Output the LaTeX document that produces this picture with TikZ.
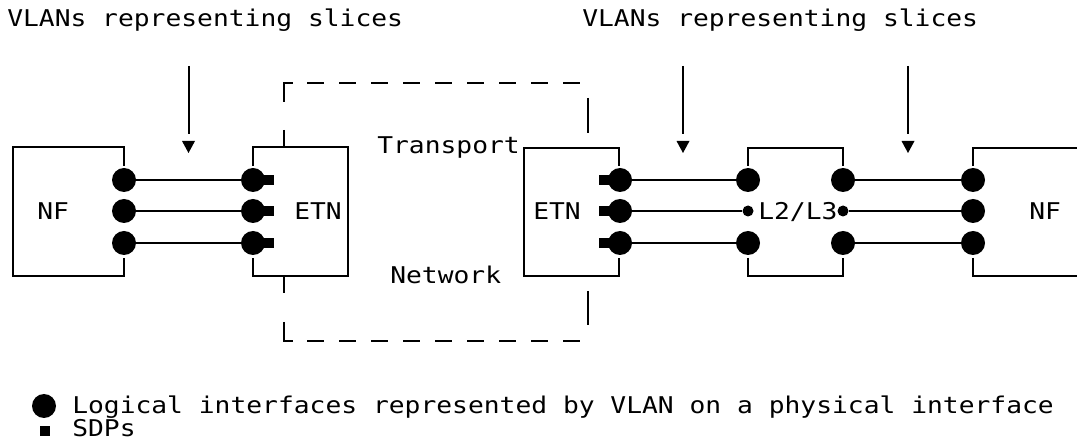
\documentclass[tikz,border=0pt]{standalone}
\usepackage{fontspec}
\newfontfamily\dmono{DejaVu Sans Mono}[FakeStretch=1.14]
\begin{document}
\begin{tikzpicture}[x=0.75pt,y=-0.75pt,
  wire/.style={line width=1.5pt},
  dashwire/.style={line width=1.5pt,dash pattern=on 12.75pt off 11.25pt},
  lbl/.style={font=\dmono\fontsize{17.3pt}{20pt}\selectfont,inner sep=0pt,anchor=base west},
  iface/.style={circle,fill=black,inner sep=0pt,minimum size=18pt},
  smalldot/.style={circle,fill=black,inner sep=0pt,minimum size=8.25pt},
  sdp/.style={rectangle,fill=black,inner sep=0pt,minimum width=12pt,minimum height=7.5pt},
  tip/.style={fill=black}]
\useasboundingbox (0,0) rectangle (1077,448);
\clip (0,0) rectangle (1077,448);

% top labels
\node[lbl] (t1) at (7,27) {VLANs representing slices};
\node[lbl] (t2) at (582,27) {VLANs representing slices};

% arrows
\foreach \n/\x in {a1/188.5,a2/683,a3/908}{
  \coordinate (\n s) at (\x,66);
  \coordinate (\n e) at (\x,134);
  \draw[wire] (\n s) -- (\n e);
  \fill[tip] (\x-6.5,141) -- (\x+6.5,141) -- (\x,153) -- cycle;
}

% boxes
\draw[wire] (124,166) -- (124,147) -- (13,147) -- (13,276) -- (124,276) -- (124,258);
\draw[wire] (253,166) -- (253,147) -- (348,147) -- (348,276) -- (253,276) -- (253,258);
\draw[wire] (619,166) -- (619,148) -- (524,148) -- (524,276) -- (619,276) -- (619,258);
\draw[wire] (748,166) -- (748,148) -- (843,148) -- (843,166);
\draw[wire] (748,258) -- (748,276) -- (843,276) -- (843,258);
\draw[wire] (1085,148) -- (973,148) -- (973,166);
\draw[wire] (973,258) -- (973,276) -- (1085,276);

% box labels
\node[lbl] (nf1) at (37,220) {NF};
\node[lbl] (etn1) at (294,220) {ETN};
\node[lbl] (etn2) at (533,220) {ETN};
\node[lbl] (l23) at (758,220) {L2/L3};
\node[lbl] (nf2) at (1029,220) {NF};
\node[lbl] (tr) at (377,154) {Transport};
\node[lbl] (nw) at (390,284) {Network};

% transport network dashed frame
\coordinate (d1) at (284,102);
\coordinate (d2) at (284,83);
\coordinate (d3) at (293,83);
\coordinate (d4) at (307,83);
\coordinate (d5) at (580,83);
\draw[wire] (d1) -- (d2) -- (d3);
\draw[dashwire] (d4) -- (d5);
\coordinate (d6) at (284,130);
\coordinate (d7) at (284,147);
\draw[wire] (d6) -- (d7);
\coordinate (d8) at (588,98);
\coordinate (d9) at (588,133);
\draw[wire] (d8) -- (d9);
\coordinate (b1) at (284,276);
\coordinate (b2) at (284,293);
\draw[wire] (b1) -- (b2);
\coordinate (b3) at (284,322);
\coordinate (b4) at (284,341);
\coordinate (b5) at (293,341);
\draw[wire] (b3) -- (b4) -- (b5);
\coordinate (b6) at (307,341);
\coordinate (b7) at (580,341);
\draw[dashwire] (b6) -- (b7);
\coordinate (b8) at (588,291);
\coordinate (b9) at (588,325);
\draw[wire] (b8) -- (b9);

% SDPs
\foreach \i/\y in {1/180,2/211,3/243}{
  \node[sdp] (sl\i) at (266,\y) {};
  \node[sdp] (sr\i) at (607,\y) {};
}

% interfaces
\foreach \i/\y in {1/180,2/211,3/243}{
  \node[iface] (nfa\i) at (124,\y) {};
  \node[iface] (etna\i) at (253,\y) {};
  \node[iface] (etnb\i) at (620,\y) {};
  \node[iface] (nfb\i) at (973,\y) {};
}
\node[iface] (la1) at (748,180) {};
\node[iface] (la3) at (748,243) {};
\node[iface] (lb1) at (843,180) {};
\node[iface] (lb3) at (843,243) {};
\node[smalldot] (la2) at (748,211) {};
\node[smalldot] (lb2) at (843,211) {};

% connectors
\foreach \i in {1,2,3}{
  \draw[wire] (nfa\i) -- (etna\i);
  \draw[wire] (etnb\i) -- (la\i);
  \draw[wire] (lb\i) -- (nfb\i);
}

% legend
\node[iface] (lgc) at (44,406) {};
\node[lbl] (lg1) at (72,413) {Logical interfaces represented by VLAN on a physical interface};
\node[sdp,minimum width=8pt,minimum height=8pt] (lgs) at (45,431) {};
\node[lbl] (lg2) at (72,436) {SDPs};
\end{tikzpicture}
\end{document}
